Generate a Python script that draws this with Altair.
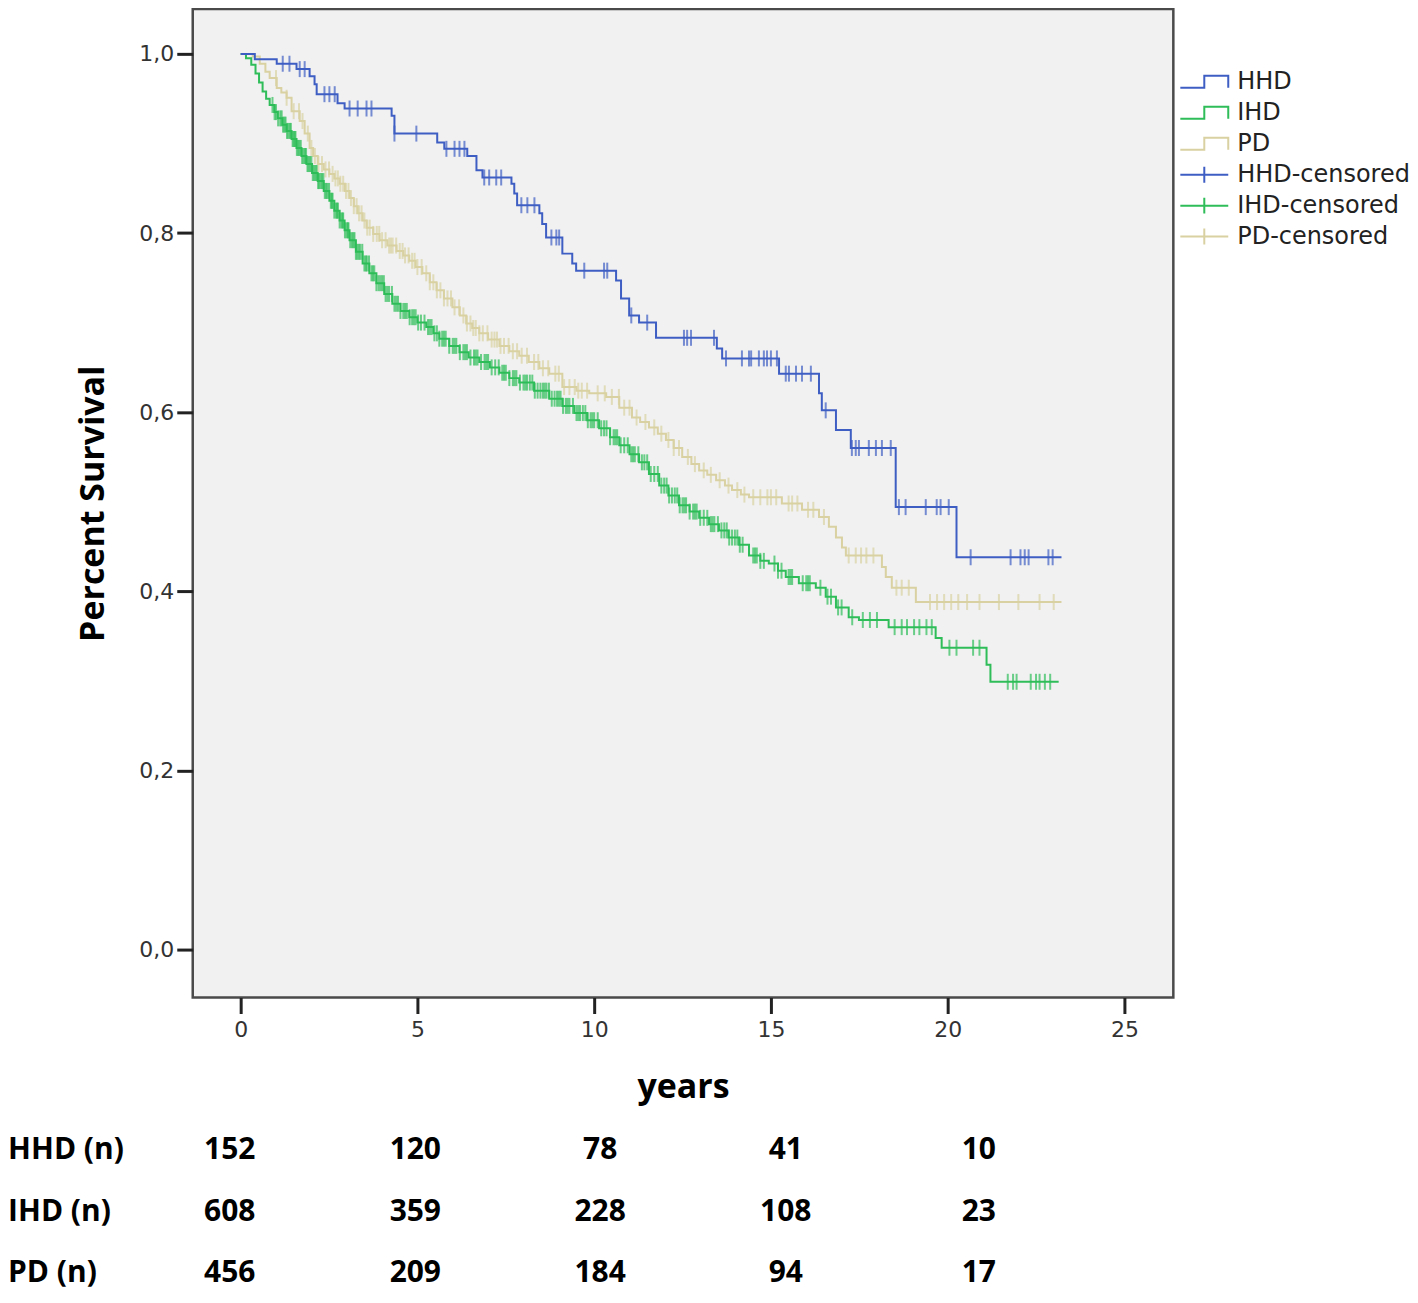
import altair as alt
import pandas as pd

# ---------------- data ----------------
series_names = ["HHD", "IHD", "PD"]
legend_domain = ["HHD", "IHD", "PD", "HHD-censored", "IHD-censored", "PD-censored"]
series_colors = ["#3E5EC3", "#2EBD58", "#D9D1A1", "#3E5EC3", "#2EBD58", "#D9D1A1"]

# Kaplan-Meier steps (years, survival)
hhd_t = [0, 0.40, 1.02, 1.58, 1.95, 2.09, 2.15, 2.74, 2.94, 4.27, 4.35, 5.56, 5.76, 6.41, 6.67,
         6.84, 7.66, 7.74, 7.82, 8.45, 8.53, 8.64, 9.10, 9.38, 9.49, 10.62, 10.76, 10.99, 11.27,
         11.75, 13.47, 13.62, 15.23, 16.36, 16.44, 16.84, 17.26, 18.53, 20.25, 23.22]
hhd_s = [1.0, 0.994, 0.989, 0.983, 0.975, 0.966, 0.955, 0.945, 0.939, 0.931, 0.911, 0.901, 0.894,
         0.886, 0.870, 0.862, 0.855, 0.844, 0.831, 0.822, 0.810, 0.795, 0.777, 0.766, 0.758, 0.747,
         0.727, 0.708, 0.700, 0.683, 0.671, 0.660, 0.643, 0.621, 0.602, 0.580, 0.560, 0.494, 0.438,
         0.438]

ihd_t = [0, 0.15, 0.30, 0.42, 0.52, 0.62, 0.72, 0.82, 0.95, 1.05, 1.18, 1.30, 1.44, 1.58, 1.72,
         1.86, 2.02, 2.18, 2.35, 2.51, 2.65, 2.80, 2.94, 3.08, 3.26, 3.45, 3.64, 3.84, 4.06, 4.29,
         4.52, 4.77, 5.00, 5.25, 5.45, 5.62, 5.90, 6.19, 6.45, 6.75, 7.05, 7.32, 7.60, 7.88, 8.30,
         8.73, 9.10, 9.44, 9.80, 10.14, 10.45, 10.71, 11.00, 11.27, 11.55, 11.84, 12.10, 12.40,
         12.70, 12.97, 13.25, 13.53, 13.80, 14.10, 14.38, 14.70, 14.94, 15.20, 15.42, 15.79, 16.27,
         16.55, 16.84, 17.20, 17.49, 18.33, 19.66, 19.83, 21.10, 21.21, 23.14]
ihd_s = [1.0, 0.995, 0.988, 0.978, 0.968, 0.958, 0.950, 0.943, 0.935, 0.928, 0.921, 0.914, 0.905,
         0.895, 0.886, 0.877, 0.867, 0.858, 0.847, 0.836, 0.825, 0.814, 0.803, 0.792, 0.779, 0.766,
         0.755, 0.744, 0.732, 0.721, 0.713, 0.706, 0.700, 0.695, 0.688, 0.682, 0.674, 0.667, 0.661,
         0.656, 0.650, 0.644, 0.638, 0.633, 0.624, 0.615, 0.607, 0.599, 0.591, 0.582, 0.572, 0.563,
         0.553, 0.544, 0.531, 0.518, 0.507, 0.496, 0.489, 0.482, 0.475, 0.468, 0.460, 0.452, 0.440,
         0.434, 0.431, 0.423, 0.416, 0.409, 0.404, 0.394, 0.382, 0.371, 0.368, 0.360, 0.348, 0.337,
         0.318, 0.299, 0.299]

pd_t = [0, 0.34, 0.54, 0.70, 0.82, 1.02, 1.15, 1.30, 1.44, 1.67, 1.81, 1.95, 2.05, 2.18, 2.35,
        2.51, 2.65, 2.80, 2.95, 3.08, 3.20, 3.31, 3.45, 3.56, 3.75, 3.93, 4.15, 4.41, 4.60, 4.77,
        4.95, 5.14, 5.35, 5.54, 5.75, 5.99, 6.20, 6.38, 6.55, 6.75, 7.00, 7.32, 7.60, 7.88, 8.15,
        8.45, 8.73, 9.10, 9.50, 9.86, 10.34, 10.71, 11.07, 11.30, 11.55, 11.80, 12.03, 12.25, 12.49,
        12.75, 12.97, 13.20, 13.45, 13.70, 13.90, 14.15, 14.38, 15.31, 15.88, 16.36, 16.64, 16.84,
        17.01, 17.12, 18.14, 18.25, 18.42, 19.10, 23.22]
pd_s = [1.0, 0.997, 0.989, 0.980, 0.973, 0.962, 0.957, 0.951, 0.936, 0.925, 0.911, 0.895, 0.886,
        0.877, 0.871, 0.866, 0.861, 0.855, 0.847, 0.839, 0.830, 0.822, 0.814, 0.806, 0.799, 0.792,
        0.786, 0.780, 0.775, 0.769, 0.762, 0.755, 0.745, 0.736, 0.727, 0.717, 0.708, 0.699, 0.694,
        0.688, 0.681, 0.674, 0.668, 0.663, 0.656, 0.649, 0.643, 0.628, 0.624, 0.621, 0.617, 0.605,
        0.594, 0.589, 0.583, 0.576, 0.569, 0.560, 0.550, 0.542, 0.535, 0.530, 0.524, 0.518, 0.513,
        0.508, 0.505, 0.498, 0.491, 0.483, 0.472, 0.460, 0.449, 0.440, 0.427, 0.416, 0.404, 0.388,
        0.388]

# censoring times (years)
hhd_cens = [1.19, 1.38, 1.67, 1.81, 2.37, 2.51, 2.66, 3.08, 3.31, 3.56, 3.70, 4.35, 4.97, 5.82,
            6.05, 6.19, 6.33, 6.89, 7.03, 7.23, 7.37, 7.94, 8.11, 8.31, 8.79, 8.93, 9.01, 9.72,
            10.28, 10.37, 11.05, 11.50, 12.54, 12.63, 12.74, 13.39, 13.73, 14.18, 14.38, 14.44,
            14.66, 14.80, 14.89, 15.00, 15.17, 15.42, 15.51, 15.71, 15.88, 16.13, 16.55, 17.29,
            17.40, 17.49, 17.77, 17.97, 18.14, 18.39, 18.62, 18.81, 19.38, 19.69, 19.80, 20.03,
            20.65, 21.78, 22.06, 22.18, 22.29, 22.85, 22.97]
ihd_cens = [0.90, 0.96, 1.00, 1.06, 1.12, 1.16, 1.20, 1.24, 1.27, 1.31, 1.35, 1.39, 1.42, 1.47,
            1.50, 1.53, 1.55, 1.59, 1.63, 1.66, 1.70, 1.74, 1.78, 1.82, 1.85, 1.89, 1.92, 1.96,
            2.00, 2.04, 2.08, 2.12, 2.15, 2.19, 2.22, 2.26, 2.30, 2.34, 2.38, 2.42, 2.45, 2.50,
            2.55, 2.58, 2.60, 2.65, 2.70, 2.73, 2.75, 2.80, 2.85, 2.88, 2.90, 2.95, 3.00, 3.03,
            3.05, 3.10, 3.15, 3.19, 3.22, 3.26, 3.30, 3.34, 3.38, 3.44, 3.50, 3.54, 3.57, 3.63,
            3.70, 3.74, 3.78, 3.84, 3.90, 3.95, 4.00, 4.05, 4.10, 4.15, 4.20, 4.28, 4.35, 4.40,
            4.45, 4.52, 4.60, 4.65, 4.70, 4.78, 4.85, 4.90, 4.95, 5.02, 5.10, 5.20, 5.30, 5.35,
            5.40, 5.48, 5.55, 5.62, 5.70, 5.75, 5.80, 5.90, 6.00, 6.05, 6.10, 6.20, 6.30, 6.35,
            6.40, 6.50, 6.60, 6.65, 6.70, 6.80, 6.90, 6.95, 7.00, 7.10, 7.20, 7.30, 7.40, 7.45,
            7.50, 7.60, 7.70, 7.75, 7.80, 7.90, 8.00, 8.05, 8.10, 8.18, 8.25, 8.32, 8.40, 8.48,
            8.55, 8.60, 8.65, 8.72, 8.80, 8.88, 8.95, 9.00, 9.05, 9.12, 9.20, 9.25, 9.30, 9.40,
            9.50, 9.55, 9.60, 9.68, 9.75, 9.82, 9.90, 9.95, 10.00, 10.10, 10.20, 10.28, 10.35,
            10.45, 10.55, 10.60, 10.65, 10.75, 10.85, 10.95, 11.05, 11.10, 11.15, 11.25, 11.35,
            11.42, 11.50, 11.60, 11.70, 11.80, 11.90, 11.98, 12.05, 12.12, 12.20, 12.28, 12.35,
            12.42, 12.50, 12.55, 12.60, 12.70, 12.80, 12.85, 12.90, 13.00, 13.10, 13.20, 13.30,
            13.35, 13.40, 13.50, 13.60, 13.68, 13.75, 13.82, 13.90, 13.98, 14.05, 14.12, 14.20,
            14.50, 14.55, 14.60, 14.70, 14.80, 15.10, 15.20, 15.30, 15.50, 15.55, 15.60, 15.90,
            16.00, 16.05, 16.10, 16.40, 16.60, 16.70, 16.90, 17.00, 17.30, 17.60, 17.80, 18.00,
            18.50, 18.70, 18.85, 19.05, 19.20, 19.40, 19.55, 20.05, 20.25, 20.72, 20.90, 21.70,
            21.85, 21.95, 22.35, 22.50, 22.60, 22.75, 22.90]
pd_cens = [1.00, 1.30, 1.50, 1.65, 1.75, 1.90, 2.00, 2.10, 2.20, 2.30, 2.40, 2.50, 2.60, 2.68,
           2.75, 2.82, 2.90, 2.98, 3.05, 3.12, 3.20, 3.28, 3.35, 3.42, 3.50, 3.58, 3.65, 3.75,
           3.85, 3.92, 4.00, 4.10, 4.20, 4.25, 4.30, 4.40, 4.50, 4.58, 4.65, 4.75, 4.85, 4.92,
           5.00, 5.12, 5.25, 5.35, 5.45, 5.55, 5.65, 5.75, 5.85, 5.95, 6.05, 6.18, 6.30, 6.40,
           6.50, 6.58, 6.65, 6.75, 6.85, 6.98, 7.10, 7.18, 7.25, 7.35, 7.45, 7.58, 7.70, 7.82,
           7.95, 8.10, 8.30, 8.42, 8.55, 8.70, 8.90, 9.00, 9.15, 9.30, 9.45, 9.55, 9.65, 9.80,
           10.10, 10.30, 10.50, 10.70, 10.85, 11.00, 11.20, 11.45, 11.70, 11.90, 12.10, 12.25,
           12.40, 12.65, 12.85, 13.10, 13.30, 13.55, 13.80, 14.05, 14.25, 14.50, 14.70, 14.90,
           15.00, 15.15, 15.50, 15.60, 15.75, 16.05, 16.20, 16.50, 17.20, 17.40, 17.55, 17.70,
           17.90, 18.55, 18.70, 18.90, 19.50, 19.70, 19.90, 20.10, 20.30, 20.55, 20.90, 21.45,
           22.00, 22.60, 23.00]

# numbers at risk table
risk_rows = ["HHD (n)", "IHD (n)", "PD (n)"]
risk_values = [[152, 120, 78, 41, 10],
               [608, 359, 228, 108, 23],
               [456, 209, 184, 94, 17]]
risk_col_x = [-0.31, 4.94, 10.17, 15.42, 20.88]   # column centres (years)
risk_row_y = [-0.224, -0.293, -0.361]             # row centres (survival units)
risk_label_x = -6.58                               # left edge of the row labels (years)

x_ticks = [0, 5, 10, 15, 20, 25]
y_ticks = [0.0, 0.2, 0.4, 0.6, 0.8, 1.0]

# ---------------- build tables ----------------
curves = {"HHD": (hhd_t, hhd_s, hhd_cens), "IHD": (ihd_t, ihd_s, ihd_cens), "PD": (pd_t, pd_s, pd_cens)}


def surv_at(ts, ss, t):
    val = ss[0]
    for ti, si in zip(ts, ss):
        if ti <= t:
            val = si
    return val


line_rows, cens_rows = [], []
for name in ["PD", "IHD", "HHD"]:
    ts, ss, cs = curves[name]
    for ti, si in zip(ts, ss):
        line_rows.append({"t": ti, "s": si, "series": name})
    for c in cs:
        cens_rows.append({"t": c, "s": surv_at(ts, ss, c), "series": name + "-censored"})
lines_df = pd.DataFrame(line_rows)
cens_df = pd.DataFrame(cens_rows)
legend_df = pd.DataFrame({"t": [0.0] * 6, "s": [0.0] * 6, "series": legend_domain})

tbl_rows = []
for r, lab in enumerate(risk_rows):
    for c, v in enumerate(risk_values[r]):
        tbl_rows.append({"t": risk_col_x[c], "s": risk_row_y[r], "label": str(v)})
tbl_df = pd.DataFrame(tbl_rows)
rowlab_df = pd.DataFrame({"t": [risk_label_x] * 3, "s": risk_row_y, "label": risk_rows})

# ---------------- encodings ----------------
xs = alt.Scale(domain=[-1.356, 26.384], nice=False, zero=False)
ys = alt.Scale(domain=[-0.0535, 1.0502], nice=False, zero=False)

xaxis = alt.Axis(values=x_ticks, title="years", grid=False, domain=False,
                 tickSize=16, tickWidth=3, tickColor="#222222",
                 labelFont="DejaVu Sans", labelFontSize=22, labelColor="#333333", labelPadding=6,
                 titleFont="Open Sans", titleFontSize=34, titleFontWeight="bold", titleColor="#000000",
                 titlePadding=30)
yaxis = alt.Axis(values=y_ticks, title="Percent Survival", grid=False, domain=False,
                 tickSize=16, tickWidth=3, tickColor="#222222",
                 labelExpr="replace(format(datum.value, '.1f'), '.', ',')",
                 labelFont="DejaVu Sans", labelFontSize=22, labelColor="#333333", labelPadding=3,
                 titleFont="Open Sans", titleFontSize=34, titleFontWeight="bold", titleColor="#000000",
                 titlePadding=28)

X = alt.X("t:Q", scale=xs, axis=xaxis)
Y = alt.Y("s:Q", scale=ys, axis=yaxis)

# legend glyphs: a step drawn forward and back (zero area, so nothing is filled) and a plus
step_path = "M-2.4,0.6H0V-0.6H2.4V0.6V-0.6H0V0.6Z"
plus_path = "M-2.4,0H2.4M0,-0.8V0.8"
legend_shapes = [step_path, step_path, step_path, plus_path, plus_path, plus_path]

leg = alt.Legend(title=None, orient="none", legendX=1001, legendY=61, padding=0,
                 symbolSize=400, symbolStrokeWidth=2, symbolOpacity=1,
                 labelFont="DejaVu Sans", labelFontSize=24, labelLimit=400,
                 labelColor="#222222", labelOffset=21, rowPadding=7)
C = alt.Color("series:N", scale=alt.Scale(domain=legend_domain, range=series_colors), legend=leg)
S = alt.Shape("series:N", scale=alt.Scale(domain=legend_domain, range=legend_shapes), legend=leg)

lines = alt.Chart(lines_df).mark_line(interpolate="step-after", strokeWidth=2).encode(
    x=X, y=Y, color=C, detail="series:N")
ticks = alt.Chart(cens_df).mark_tick(orient="vertical", size=16, thickness=2).encode(
    x=X, y=Y, color=C)
legend_layer = alt.Chart(legend_df).mark_point(filled=False, opacity=1, strokeWidth=2).encode(
    x=X, y=Y, color=C, shape=S).transform_filter("false")

numbers = alt.Chart(tbl_df).mark_text(font="Open Sans", fontWeight="bold", fontSize=30,
                                      align="center", baseline="middle", color="#000000").encode(
    x=X, y=Y, text="label:N")
rowlabels = alt.Chart(rowlab_df).mark_text(font="Open Sans", fontWeight="bold", fontSize=30,
                                           align="left", baseline="middle", color="#000000").encode(
    x=X, y=Y, text="label:N")

chart = alt.layer(lines, ticks, legend_layer, numbers, rowlabels).properties(
    width=982, height=990, padding={"left": 0, "top": 0, "right": 0, "bottom": 6},
    background="#FFFFFF"
).configure_view(fill="#F1F1F1", stroke="#4A4A4A", strokeWidth=2.5)

chart.save("out.html", embed_options={"renderer": "svg", "actions": False})
